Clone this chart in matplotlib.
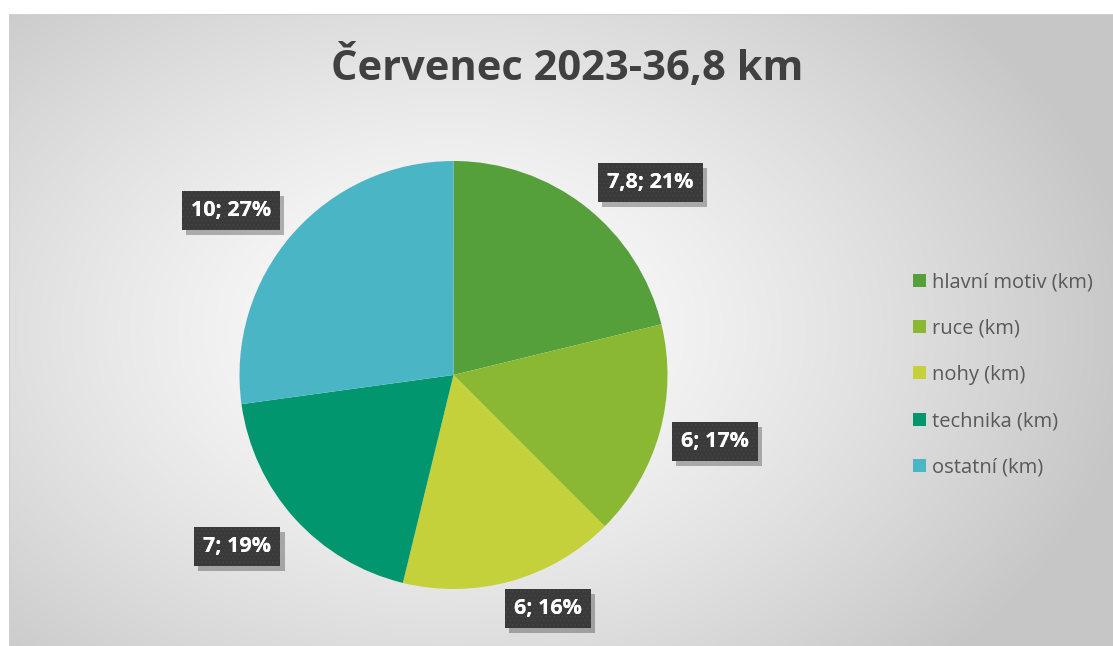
import numpy as np
import matplotlib
matplotlib.use("Agg")
import matplotlib.pyplot as plt
import matplotlib.patheffects as pe
from matplotlib.patches import Patch

# ---- data ----
title = "Červenec 2023-36,8 km"
categories = ["hlavní motiv (km)", "ruce (km)", "nohy (km)", "technika (km)", "ostatní (km)"]
values = [7.8, 6, 6, 7, 10]
value_labels = ["7,8", "6", "6", "7", "10"]
percent_labels = [21, 17, 16, 19, 27]
colors = ["#56A03B", "#8BB833", "#C4D13B", "#02966F", "#4AB5C5"]

# ---- layout ----
W, H = 1113, 646
plt.rcParams["hatch.linewidth"] = 0.6
fig = plt.figure(figsize=(W / 100, H / 100), dpi=100)
fig.patch.set_facecolor("white")

# background chart area with radial gradient
x0, y0 = 9, 14
bg = fig.add_axes([x0 / W, 0, (W - x0) / W, (H - y0) / H])
bg.set_axis_off()
nx, ny = 400, 240
xx, yy = np.meshgrid(np.linspace(0, 1, nx), np.linspace(0, 1, ny))
cx, cy = (450 - x0) / (W - x0), (330 - y0) / (H - y0)
d = np.sqrt(((xx - cx) / 0.62) ** 2 + ((yy - cy) / 0.75) ** 2)
v = 1.0 - 0.22 * np.clip(d, 0, 1) ** 1.3
img = np.dstack([v, v, v])
bg.imshow(img, extent=[0, 1, 0, 1], origin="upper", aspect="auto")
bg.set_xlim(0, 1)
bg.set_ylim(0, 1)
bg.plot([0, 0, 1], [0, 1, 1], color="#d0d0d0", lw=1.5, transform=bg.transAxes)

# pie axes
pcx, pcy, r = 453.5, 375, 214
ax = fig.add_axes([(pcx - r) / W, (H - pcy - r) / H, 2 * r / W, 2 * r / H])
wedges, _ = ax.pie(values, colors=colors, startangle=90, counterclock=False,
                   radius=1, wedgeprops=dict(linewidth=0))
ax.set_xlim(-1, 1)
ax.set_ylim(-1, 1)
ax.set_aspect("auto")
ax.set_axis_off()

label_pos = [(0.92, 0.90), (1.22, -0.31), (0.44, -1.09), (-1.01, -0.80), (-1.04, 0.77)]
for (lx, ly), vl, pc in zip(label_pos, value_labels, percent_labels):
    txt = f"{vl}; {pc}%"
    kw = dict(ha="center", va="center", fontsize=15.5, fontweight="bold",
              family="Open Sans", clip_on=False)
    t = ax.text(lx, ly, txt, color="white", zorder=5,
                bbox=dict(boxstyle="square,pad=0.42", facecolor="#3a3a3a",
                          edgecolor="none", linewidth=0), **kw)
    t.get_bbox_patch().set_path_effects([
        pe.SimplePatchShadow(offset=(3, -4), shadow_rgbFace="black", alpha=0.28),
        pe.Normal()])
    ax.text(lx, ly, txt, color="white", zorder=6,
            bbox=dict(boxstyle="square,pad=0.42", facecolor="none",
                      edgecolor="#454545", linewidth=0, hatch="...."), **kw)

fig.text(567 / W, 1 - 68 / H, title, ha="center", va="center",
         fontsize=30, fontweight="bold", color="#404040", family="Open Sans")

handles = [Patch(facecolor=c, edgecolor="none") for c in colors]
leg = fig.legend(handles, categories, loc="center left",
                 bbox_to_anchor=(895 / W, 1 - 375 / H), frameon=False,
                 prop={"family": "Open Sans", "size": 14.5}, labelcolor="#595959",
                 handlelength=0.62, handleheight=0.62, handletextpad=0.3,
                 labelspacing=1.3)

fig.savefig("out.png", dpi=100)
